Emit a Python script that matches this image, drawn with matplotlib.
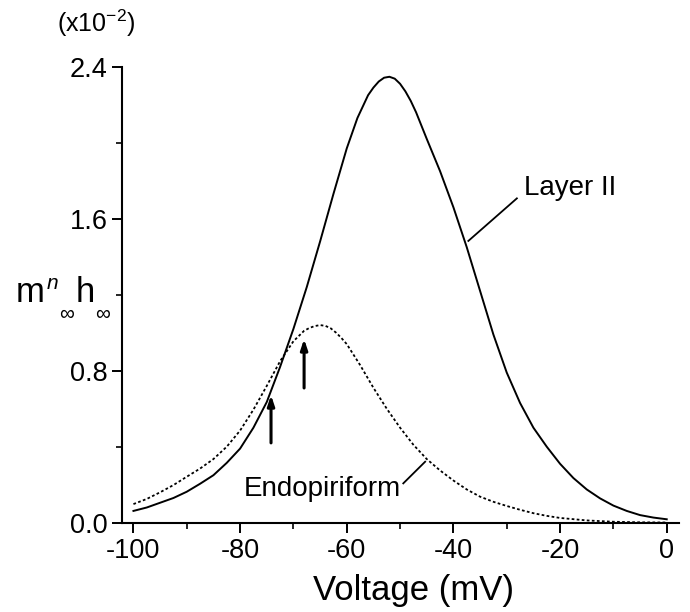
import matplotlib
matplotlib.use("Agg")
import matplotlib.pyplot as plt
from matplotlib.ticker import MultipleLocator, FixedLocator

plt.rcParams['font.family'] = ['Liberation Sans', 'DejaVu Sans']
plt.rcParams['mathtext.fontset'] = 'custom'
plt.rcParams['mathtext.rm'] = 'Liberation Sans'
plt.rcParams['mathtext.it'] = 'Liberation Sans:italic'

# ---- data ----
layer2_v = [-100, -97.5, -95, -92.5, -90, -87.5, -85, -82.5, -80, -77.5, -75, -72.5, -70,
            -67.5, -65, -62.5, -60, -58, -56, -55, -54, -53, -52, -51, -50, -49, -48,
            -47, -46, -45, -42.5, -40, -37.5, -35, -32.5, -30, -27.5, -25, -22.5, -20,
            -17.5, -15, -12.5, -10, -7.5, -5, -2.5, 0]
layer2_y = [0.062, 0.08, 0.105, 0.13, 0.163, 0.205, 0.25, 0.315, 0.39, 0.50, 0.635, 0.82, 1.02,
            1.24, 1.48, 1.73, 1.97, 2.13, 2.25, 2.29, 2.322, 2.342, 2.347, 2.337, 2.31, 2.27, 2.22,
            2.16, 2.09, 2.02, 1.85, 1.66, 1.45, 1.22, 0.99, 0.79, 0.63, 0.50, 0.40, 0.31,
            0.235, 0.175, 0.128, 0.09, 0.062, 0.04, 0.027, 0.018]

endo_v = [-100, -97.5, -95, -92.5, -90, -87.5, -85, -82.5, -80, -77.5, -75, -72.5, -70,
          -68, -67, -66, -65, -64, -63, -62, -61, -60, -57.5, -55, -52.5, -50, -47.5,
          -45, -42.5, -40, -37.5, -35, -32.5, -30, -27.5, -25, -22.5, -20, -15, -10, -5, 0]
endo_y = [0.098, 0.125, 0.16, 0.198, 0.242, 0.285, 0.335, 0.40, 0.485, 0.595, 0.72, 0.85, 0.955,
          1.01, 1.025, 1.035, 1.04, 1.036, 1.023, 1.0, 0.972, 0.94, 0.83, 0.71, 0.60, 0.50, 0.41,
          0.335, 0.275, 0.222, 0.175, 0.137, 0.11, 0.088, 0.068, 0.05, 0.036, 0.025, 0.012, 0.005,
          0.002, 0.001]

x_ticks = [-100, -80, -60, -40, -20, 0]
y_ticks = [0.0, 0.8, 1.6, 2.4]
y_tick_labels = ["0.0", "0.8", "1.6", "2.4"]

W, H = 690, 612
fig = plt.figure(figsize=(W / 100, H / 100), dpi=100)
ax = fig.add_axes([121.7 / W, 1 - 522.7 / H, (679 - 121.7) / W, (522.7 - 66.7) / H])

ax.plot(layer2_v, layer2_y, color='black', lw=1.4, solid_joinstyle='round')
ax.plot(endo_v, endo_y, color='black', lw=1.3, linestyle=(0, (1.5, 1.3)))

ax.set_xlim(-102.2, 2.3)
ax.set_ylim(0, 2.4)

for s in ['top', 'right']:
    ax.spines[s].set_visible(False)
for s in ['left', 'bottom']:
    ax.spines[s].set_linewidth(1.5)

ax.xaxis.set_major_locator(FixedLocator(x_ticks))
ax.xaxis.set_minor_locator(MultipleLocator(10))
ax.yaxis.set_major_locator(FixedLocator(y_ticks))
ax.set_yticklabels(y_tick_labels)
ax.yaxis.set_minor_locator(MultipleLocator(0.4))
ax.set_xticklabels([str(t) for t in x_ticks])

ax.tick_params(which='major', direction='out', length=7, width=1.4, labelsize=19.5)
ax.tick_params(axis='x', which='major', pad=4)
ax.tick_params(axis='y', which='major', pad=3)
ax.tick_params(which='minor', direction='out', length=4, width=1.2)

ax.set_xlabel("Voltage (mV)", fontsize=25)
ax.xaxis.set_label_coords(0.524, -0.112)

# arrows
for xv, y0, y1 in [(-74.2, 0.42, 0.672), (-68.0, 0.709, 0.967)]:
    ax.annotate("", xy=(xv, y1), xytext=(xv, y0),
                arrowprops=dict(arrowstyle='-|>,head_length=0.6,head_width=0.2', lw=2.2,
                                color='black', shrinkA=0, shrinkB=0))

# curve labels with leader lines
ax.text(-26.7, 1.76, "Layer II", fontsize=20, ha='left', va='center')
ax.plot([-28.1, -37.2], [1.707, 1.483], color='black', lw=1.3)
ax.text(-49.9, 0.177, "Endopiriform", fontsize=20, ha='right', va='center')
ax.plot([-49.4, -45.3], [0.207, 0.321], color='black', lw=1.3)

# axis label pieces (figure pixel coordinates)
def ftext(x, y, s, **kw):
    fig.text(x / W, 1 - y / H, s, **kw)

ftext(57, 23, r"(x10$^{\mathregular{-2}}$)", fontsize=18, ha='left', va='center')
ftext(16, 302, "m", fontsize=25, ha='left', va='baseline')
ftext(47, 289, "n", fontsize=15, style='italic', ha='left', va='baseline')
ftext(67, 315, "\u221e", fontsize=15, ha='center', va='center')
ftext(76, 302, "h", fontsize=25, ha='left', va='baseline')
ftext(103, 315, "\u221e", fontsize=15, ha='center', va='center')

fig.savefig("out.png", dpi=100)
